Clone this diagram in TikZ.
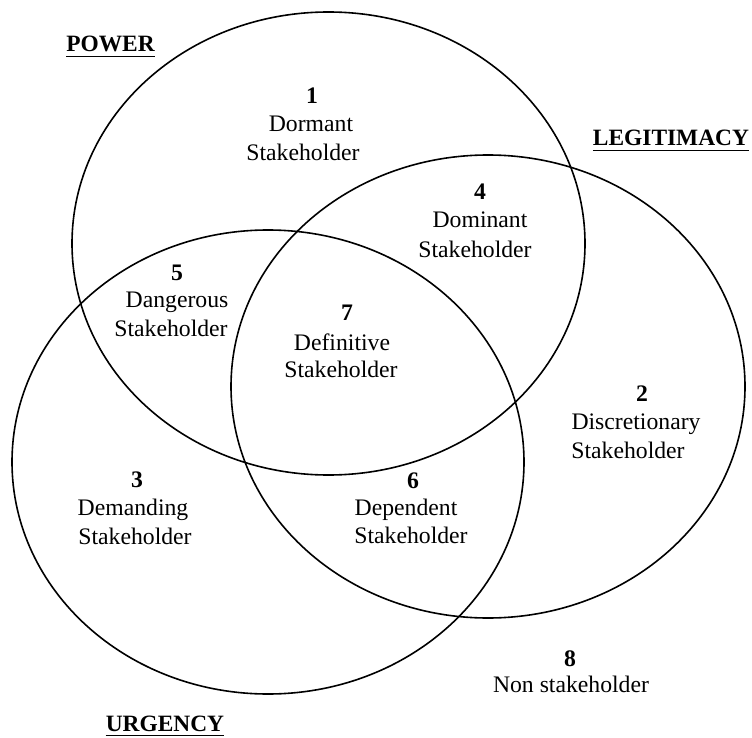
\documentclass[tikz,border=0pt]{standalone}
\usepackage{fontspec}
\setmainfont{Liberation Serif}
\begin{document}
\begin{tikzpicture}[x=1pt,y=-1pt,
  ring/.style={line width=1.6pt},
  txt/.style={anchor=base,inner sep=0pt,font=\fontsize{23.7}{28}\selectfont},
  num/.style={txt,font=\fontsize{23.7}{28}\selectfont\bfseries},
  head/.style={txt,font=\fontsize{23.4}{28}\selectfont\bfseries},
  uline/.style={line width=1.6pt}]
\useasboundingbox (0,0) rectangle (752,738);

% the three attribute sets
\draw[ring] (328.5,243.5) ellipse [x radius=256.5pt, y radius=231.5pt];
\draw[ring] (488,386.5) ellipse [x radius=257pt, y radius=231.5pt];
\draw[ring] (268,462) ellipse [x radius=256pt, y radius=232pt];

% set headings
\node[head] (pw) at (110.5,52) {POWER};
\node[head] (lg) at (671,146) {LEGITIMACY};
\node[head] (ug) at (165,731) {URGENCY};
\foreach \h in {pw,lg,ug}
  \draw[uline] ([yshift=-4.5pt]\h.base west) -- ([yshift=-4.5pt]\h.base east);

% stakeholder classes
\node[num] (n1) at (312,104) {1};
\node[txt] (n1a) at (311,132) {Dormant};
\node[txt] (n1b) at (303,161) {Stakeholder};

\node[num] (n4) at (480,200) {4};
\node[txt] (n4a) at (480,228) {Dominant};
\node[txt] (n4b) at (475,257) {Stakeholder};

\node[num] (n5) at (177,280) {5};
\node[txt] (n5a) at (177,307) {Dangerous};
\node[txt] (n5b) at (171,336) {Stakeholder};

\node[num] (n7) at (347,320) {7};
\node[txt] (n7a) at (342,350) {Definitive};
\node[txt] (n7b) at (341,377) {Stakeholder};

\node[num] (n2) at (642,401) {2};
\node[txt] (n2a) at (636,429) {Discretionary};
\node[txt] (n2b) at (628,458) {Stakeholder};

\node[num] (n3) at (137,487) {3};
\node[txt] (n3a) at (133,515) {Demanding};
\node[txt] (n3b) at (135,544) {Stakeholder};

\node[num] (n6) at (413,488) {6};
\node[txt] (n6a) at (406,515) {Dependent};
\node[txt] (n6b) at (411,543) {Stakeholder};

\node[num] (n8) at (570,666) {8};
\node[txt] (n8a) at (571,692) {Non stakeholder};
\end{tikzpicture}
\end{document}
